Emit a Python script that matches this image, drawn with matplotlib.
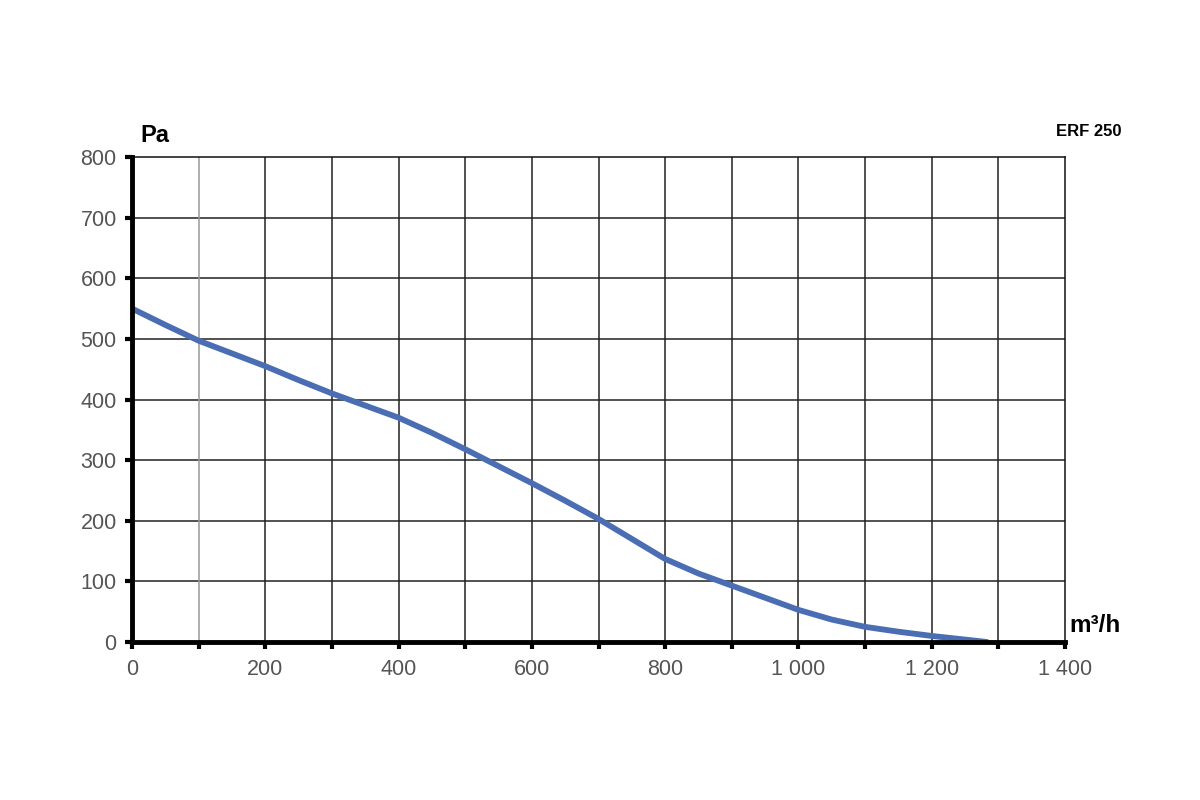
import matplotlib
matplotlib.use("Agg")
import matplotlib.pyplot as plt

airflow = [0, 50, 100, 150, 200, 250, 300, 350, 400, 450, 500, 550, 600, 650, 700,
           750, 800, 850, 900, 950, 1000, 1050, 1100, 1150, 1200, 1250, 1283]
pressure = [550, 523, 497, 476, 455, 432, 410, 390, 370, 345, 318, 290, 262, 233, 203,
            170, 137, 113, 93, 73, 53, 37, 25, 17, 10, 4, 0]
x_ticks = [0, 200, 400, 600, 800, 1000, 1200, 1400]
x_tick_labels = ["0", "200", "400", "600", "800", "1 000", "1 200", "1 400"]
y_ticks = [0, 100, 200, 300, 400, 500, 600, 700, 800]

plt.rcParams['font.family'] = ['Liberation Sans', 'DejaVu Sans']

fig = plt.figure(figsize=(12, 8), dpi=100)
ax = fig.add_axes([0.11, 0.1975, 0.7775, 0.60625])

ax.set_xlim(0, 1400)
ax.set_ylim(0, 800)

# grid
for yv in range(100, 800, 100):
    ax.axhline(yv, color="#222222", lw=1.1, zorder=1)
for xv in range(100, 1400, 100):
    ax.axvline(xv, color="#999999" if xv == 100 else "#222222", lw=1.1, zorder=1)

ax.plot(airflow, pressure, color="#4a6db4", lw=4.2, solid_capstyle="round", zorder=3)

for s in ["top", "right"]:
    ax.spines[s].set_linewidth(1.1)
    ax.spines[s].set_color("#111111")
for s in ["left", "bottom"]:
    ax.spines[s].set_linewidth(3.5)
    ax.spines[s].set_color("black")
    ax.spines[s].set_zorder(4)

ax.set_xticks(range(0, 1401, 100), minor=False)
ax.set_xticklabels([x_tick_labels[x_ticks.index(v)] if v in x_ticks else "" for v in range(0, 1401, 100)])
ax.set_yticks(y_ticks)
ax.set_yticklabels([str(v) for v in y_ticks])
ax.tick_params(axis="both", direction="out", length=5, width=3, color="black",
               labelsize=15.5, labelcolor="#555555")
ax.tick_params(axis="x", pad=7)
ax.tick_params(axis="y", pad=6)

fig.text(140 / 1200, 1 - 135 / 800, "Pa", fontsize=17, fontweight="bold", va="center", ha="left")
fig.text(1069 / 1200, 1 - 625 / 800, "m³/h", fontsize=17.5, fontweight="bold", va="center", ha="left")
fig.text(1122 / 1200, 1 - 132 / 800, "ERF 250", fontsize=12, fontweight="bold", va="center", ha="right")

fig.savefig("out.png", dpi=100, facecolor="white")
